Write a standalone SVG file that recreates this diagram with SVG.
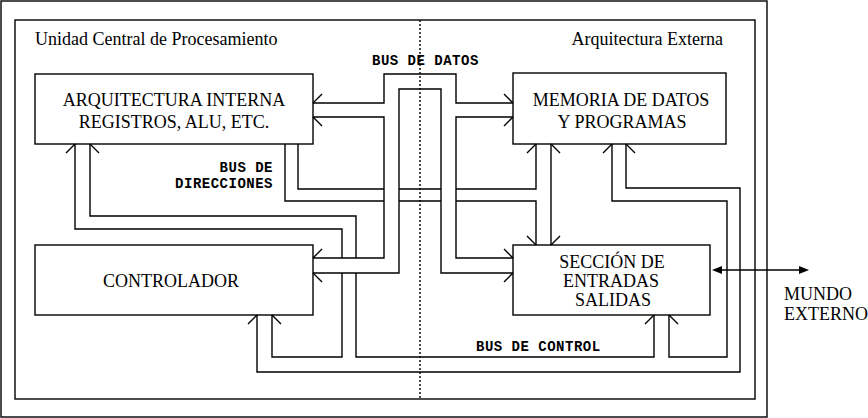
<svg xmlns="http://www.w3.org/2000/svg" width="868" height="418" viewBox="0 0 868 418">
<style>
.ln{fill:none;stroke:#000;stroke-width:1.4}
.box{fill:none;stroke:#000;stroke-width:1.4}
.t{font-family:"Liberation Serif","Times New Roman",serif;font-size:18px;fill:#000}
.tc{text-anchor:middle}
.m{font-family:"Liberation Mono","Courier New",monospace;font-size:14px;font-weight:bold;letter-spacing:0.5px;fill:#000}
.dot{fill:none;stroke:#000;stroke-width:1.4;stroke-dasharray:2 2}
</style>
<rect x="0" y="0" width="868" height="418" fill="#fff"/>
<g id="frames">
<rect class="box" x="1" y="1" width="766" height="416"/>
<rect class="box" x="15" y="20" width="740" height="379"/>
<path class="dot" d="M420,20 V399"/>
<text class="t" x="35" y="45">Unidad Central de Procesamiento</text>
<text class="t" x="723" y="45" text-anchor="end">Arquitectura Externa</text>
</g>
<g id="arquitectura">
<rect class="box" x="35" y="74" width="278" height="70"/>
<text class="t tc" x="174" y="106">ARQUITECTURA INTERNA</text>
<text class="t tc" x="174" y="128">REGISTROS, ALU, ETC.</text>
</g>
<g id="memoria">
<rect class="box" x="513" y="73" width="213" height="71"/>
<text class="t tc" x="621" y="106">MEMORIA DE DATOS</text>
<text class="t tc" x="622" y="128">Y PROGRAMAS</text>
</g>
<g id="controlador">
<rect class="box" x="35" y="245" width="278" height="70"/>
<text class="t tc" x="171" y="287">CONTROLADOR</text>
</g>
<g id="seccion">
<rect class="box" x="513" y="245" width="197" height="70"/>
<text class="t tc" x="612" y="268">SECCIÓN DE</text>
<text class="t tc" x="611" y="287">ENTRADAS</text>
<text class="t tc" x="613" y="306">SALIDAS</text>
</g>
<g id="mundo">
<text class="t" x="784" y="300">MUNDO</text>
<text class="t" x="784" y="320">EXTERNO</text>
</g>
<g id="connectors">
<!-- bus de datos -->
<path class="ln" d="M313,103 H384 V74 H456 V103 H513"/>
<path class="ln" d="M313,117 H384 V258 H313"/>
<path class="ln" d="M313,273 H399 V89 H441 V273 H513"/>
<path class="ln" d="M513,117 H456 V258 H513"/>
<path class="ln" d="M313,103 l9,-9 M313,117 l9,9 M513,103 l-9,-9 M513,117 l-9,9 M313,258 l9,-9 M313,273 l9,9 M513,258 l-9,-9 M513,273 l-9,9"/>
<text class="m" x="372" y="65">BUS DE DATOS</text>
<!-- bus de direcciones -->
<path class="ln" d="M298,144 V189 H384 M399,189 H441 M456,189 H536 V144"/>
<path class="ln" d="M285,144 V201 H384 M399,201 H441 M456,201 H536 V245"/>
<path class="ln" d="M551,144 V245"/>
<path class="ln" d="M536,144 l-9,9 M551,144 l9,9 M536,245 l-9,-9 M551,245 l9,-9"/>
<text class="m" x="273" y="172" text-anchor="end">BUS DE</text>
<text class="m" x="273" y="188" text-anchor="end">DIRECCIONES</text>
<!-- bus de control -->
<path class="ln" d="M75,144 V229 H342 V258 M342,273 V357 H272 V315"/>
<path class="ln" d="M90,144 V216 H356 V258 M356,273 V357 H654 V315"/>
<path class="ln" d="M257,315 V372 H740 V188 H626 V144"/>
<path class="ln" d="M669,315 V357 H727 V201 H612 V144"/>
<path class="ln" d="M75,144 l-9,9 M90,144 l9,9 M257,315 l-9,9 M272,315 l9,9 M654,315 l-9,9 M669,315 l9,9 M612,144 l-9,9 M626,144 l9,9"/>
<text class="m" x="476" y="351">BUS DE CONTROL</text>
<!-- mundo externo -->
<path class="ln" d="M720,270 H801"/>
<polygon points="712,270 722,266 722,274" fill="#000"/>
<polygon points="809,270 799,266 799,274" fill="#000"/>
</g>
</svg>
